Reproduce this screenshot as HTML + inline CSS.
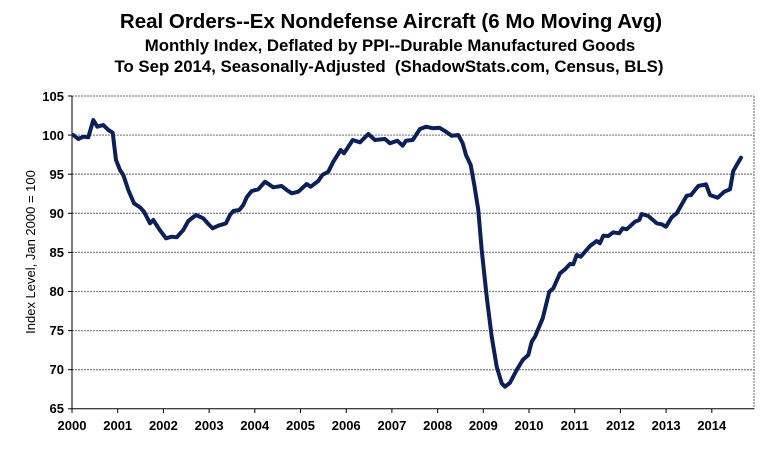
<!DOCTYPE html>
<html><head><meta charset="utf-8"><style>
html,body{margin:0;padding:0;background:#fff;}
svg{display:block;font-family:"Liberation Sans",Arial,sans-serif;}
</style></head><body>
<svg width="781" height="452" viewBox="0 0 781 452">
<text x="391" y="28" text-anchor="middle" font-size="20.5" font-weight="bold">Real Orders--Ex Nondefense Aircraft (6 Mo Moving Avg)</text>
<text x="390" y="51" text-anchor="middle" font-size="16.8" font-weight="bold">Monthly Index, Deflated by PPI--Durable Manufactured Goods</text>
<text x="389" y="72" text-anchor="middle" font-size="16.8" font-weight="bold" xml:space="preserve">To Sep 2014, Seasonally-Adjusted  (ShadowStats.com, Census, BLS)</text>
<g stroke="#888" stroke-width="1.3" stroke-dasharray="2,1">
<line x1="72" y1="96" x2="754" y2="96"/>
<line x1="72" y1="135.1" x2="754" y2="135.1"/>
<line x1="72" y1="174.2" x2="754" y2="174.2"/>
<line x1="72" y1="213.3" x2="754" y2="213.3"/>
<line x1="72" y1="252.4" x2="754" y2="252.4"/>
<line x1="72" y1="291.5" x2="754" y2="291.5"/>
<line x1="72" y1="330.6" x2="754" y2="330.6"/>
<line x1="72" y1="369.7" x2="754" y2="369.7"/>
<line x1="754" y1="96" x2="754" y2="409"/>
</g>
<g stroke="#000" stroke-width="1">
<line x1="72" y1="96" x2="72" y2="409"/>
<line x1="72" y1="408.8" x2="754" y2="408.8"/>
<line x1="68" y1="96" x2="72" y2="96"/><line x1="68" y1="135.1" x2="72" y2="135.1"/><line x1="68" y1="174.2" x2="72" y2="174.2"/><line x1="68" y1="213.3" x2="72" y2="213.3"/><line x1="68" y1="252.4" x2="72" y2="252.4"/><line x1="68" y1="291.5" x2="72" y2="291.5"/><line x1="68" y1="330.6" x2="72" y2="330.6"/><line x1="68" y1="369.7" x2="72" y2="369.7"/><line x1="68" y1="408.8" x2="72" y2="408.8"/>
<line x1="72" y1="409" x2="72" y2="413"/><line x1="117.7" y1="409" x2="117.7" y2="413"/><line x1="163.4" y1="409" x2="163.4" y2="413"/><line x1="209.1" y1="409" x2="209.1" y2="413"/><line x1="254.8" y1="409" x2="254.8" y2="413"/><line x1="300.5" y1="409" x2="300.5" y2="413"/><line x1="346.2" y1="409" x2="346.2" y2="413"/><line x1="391.9" y1="409" x2="391.9" y2="413"/><line x1="437.6" y1="409" x2="437.6" y2="413"/><line x1="483.3" y1="409" x2="483.3" y2="413"/><line x1="529" y1="409" x2="529" y2="413"/><line x1="574.7" y1="409" x2="574.7" y2="413"/><line x1="620.4" y1="409" x2="620.4" y2="413"/><line x1="666.1" y1="409" x2="666.1" y2="413"/><line x1="711.8" y1="409" x2="711.8" y2="413"/>
</g>
<g font-size="13" font-weight="bold" text-anchor="end">
<text x="64" y="101">105</text><text x="64" y="140">100</text><text x="64" y="179">95</text><text x="64" y="218">90</text><text x="64" y="257">85</text><text x="64" y="296">80</text><text x="64" y="335">75</text><text x="64" y="374">70</text><text x="64" y="413">65</text>
</g>
<g font-size="13" font-weight="bold" text-anchor="middle">
<text x="72" y="430">2000</text><text x="117.7" y="430">2001</text><text x="163.4" y="430">2002</text><text x="209.1" y="430">2003</text><text x="254.8" y="430">2004</text><text x="300.5" y="430">2005</text><text x="346.2" y="430">2006</text><text x="391.9" y="430">2007</text><text x="437.6" y="430">2008</text><text x="483.3" y="430">2009</text><text x="529" y="430">2010</text><text x="574.7" y="430">2011</text><text x="620.4" y="430">2012</text><text x="666.1" y="430">2013</text><text x="711.8" y="430">2014</text>
</g>
<text transform="translate(35,252) rotate(-90)" text-anchor="middle" font-size="13">Index Level, Jan 2000 = 100</text>
<polyline fill="none" stroke="#0a1f5c" stroke-width="4" stroke-linejoin="round" stroke-linecap="round" points="73.3,135 78.3,139 83.3,136.7 88.3,137.3 93.3,120 97.3,126.7 103.3,125 108.3,130 112.7,132.7 116,160 120,170 123.3,175 128.3,190 134,203.3 140,207.3 144,211.7 150,223.3 153.3,220 159.3,229.3 166,238.3 171.7,236.7 176.7,237.3 183.3,230 188.3,221 196,215 203.3,218.3 208.3,224 212.7,228.3 218.3,225.7 226,223.3 230,215 233.3,211 239.3,210 243.3,205 246.7,197.3 251.7,191 258.3,189.3 265,181.7 273.3,187.3 281.7,186 286.7,190 291.7,193.3 298.3,191.7 306.7,184 310.7,186.7 318.3,181 322.3,175 328.3,171.7 333.3,161.7 340.7,150 344,153.3 352.7,140 360,142.3 368.3,134 375,140 385,139 390,143.3 397.3,140.7 402.7,145.7 406,140.7 412.7,140 420,129 426,126.7 433.3,128.3 439.3,127.7 446,131.7 451.7,135.7 458.3,135 462.7,143.3 466,155 470.7,165 474.3,185 478.3,210 481.7,250 486.7,296.7 491.7,336.7 496.7,366.7 501.7,383.3 505,386.7 510,382.7 516.7,370 522.7,360 528.3,355 531.7,341.7 535,336.7 542.7,318.3 549.3,291.7 553.3,288.3 560,273.3 565,269.3 570,264 573.3,264.3 576.7,255 580.7,256.7 590,246 596.7,241 599.9,243.3 603.3,235.7 608.3,236 613.3,232.3 619.3,233.3 622.7,228.3 626.7,229.3 635,221.7 639.3,220 641.7,214 648.3,216 656.7,223.3 661.7,224.3 666,226.7 671.7,217.3 676.7,213.3 686.7,195.7 691,195 698.3,186 706,184.3 710,195 717.7,197.7 724.3,191.7 730,189.3 733.3,171 736.7,165 741,157.7"/>
</svg>
</body></html>
